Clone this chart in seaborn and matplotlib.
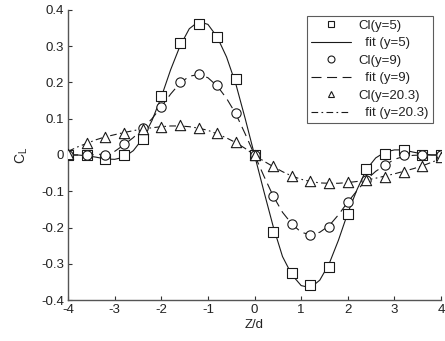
import numpy as np
import pandas as pd
import matplotlib
matplotlib.use("Agg")
import matplotlib.pyplot as plt
import seaborn as sns
from matplotlib.lines import Line2D

# ---- data ----
z_pts = [-4.0, -3.6, -3.2, -2.8, -2.4, -2.0, -1.6, -1.2, -0.8, -0.4, 0.0,
         0.4, 0.8, 1.2, 1.6, 2.0, 2.4, 2.8, 3.2, 3.6, 4.0]
cl_y5 = [0.0, 0.0, -0.011, 0.0, 0.044, 0.163, 0.31, 0.36, 0.325, 0.21, 0.0,
         -0.212, -0.325, -0.359, -0.309, -0.163, -0.04, 0.003, 0.014, 0.0, 0.0]
cl_y9 = [0.0, 0.0, 0.0, 0.03, 0.074, 0.133, 0.2, 0.222, 0.193, 0.115, 0.0,
         -0.113, -0.19, -0.22, -0.198, -0.13, -0.07, -0.028, 0.0, 0.0, 0.0]
cl_y20 = [0.004, 0.032, 0.05, 0.06, 0.072, 0.077, 0.083, 0.074, 0.06, 0.036, 0.0,
          -0.03, -0.058, -0.072, -0.078, -0.075, -0.069, -0.06, -0.047, -0.03, -0.006]

z_fit = [-4.0, -3.8, -3.6, -3.4, -3.2, -3.0, -2.8, -2.6, -2.4, -2.2, -2.0,
         -1.8, -1.6, -1.4, -1.2, -1.0, -0.8, -0.6, -0.4, -0.2, 0.0,
         0.2, 0.4, 0.6, 0.8, 1.0, 1.2, 1.4, 1.6, 1.8, 2.0,
         2.2, 2.4, 2.6, 2.8, 3.0, 3.2, 3.4, 3.6, 3.8, 4.0]
fit_y5 = [0.0, 0.0, -0.002, -0.006, -0.011, -0.012, -0.006, 0.012, 0.045, 0.095, 0.16,
          0.235, 0.30, 0.348, 0.368, 0.36, 0.325, 0.27, 0.195, 0.10, 0.0,
          -0.10, -0.197, -0.28, -0.33, -0.36, -0.366, -0.345, -0.30, -0.235, -0.16,
          -0.095, -0.04, -0.008, 0.008, 0.014, 0.014, 0.008, 0.003, 0.0, 0.0]
fit_y9 = [0.0, 0.0, 0.0, 0.001, 0.003, 0.01, 0.028, 0.048, 0.073, 0.10, 0.133,
          0.168, 0.198, 0.217, 0.222, 0.213, 0.19, 0.156, 0.113, 0.058, 0.0,
          -0.058, -0.113, -0.158, -0.19, -0.213, -0.22, -0.213, -0.195, -0.165, -0.13,
          -0.098, -0.068, -0.045, -0.028, -0.012, -0.004, -0.001, 0.0, 0.0, 0.0]
fit_y20 = [0.01, 0.022, 0.032, 0.042, 0.05, 0.056, 0.062, 0.067, 0.072, 0.075, 0.078,
           0.08, 0.08, 0.078, 0.074, 0.068, 0.058, 0.047, 0.034, 0.018, 0.0,
           -0.017, -0.032, -0.046, -0.058, -0.067, -0.073, -0.077, -0.078, -0.078, -0.076,
           -0.073, -0.069, -0.064, -0.058, -0.052, -0.045, -0.038, -0.03, -0.02, -0.01]

x_ticks = [-4, -3, -2, -1, 0, 1, 2, 3, 4]
y_ticks = [-0.4, -0.3, -0.2, -0.1, 0.0, 0.1, 0.2, 0.3, 0.4]
y_ticklabels = ["-0.4", "-0.3", "-0.2", "-0.1", "0", "0.1", "0.2", "0.3", "0.4"]

# ---- plot ----
sns.set_theme(style="white")
plt.rcParams['font.family'] = ['Liberation Sans', 'DejaVu Sans']

fig = plt.figure(figsize=(4.45, 3.41), dpi=100)
ax = fig.add_axes([0.153, 0.12, 0.838, 0.851])

lc = "#1a1a1a"
lw = 0.8
sns.lineplot(x=z_fit, y=fit_y5, ax=ax, color=lc, lw=lw, linestyle="-", legend=False, zorder=2)
sns.lineplot(x=z_fit, y=fit_y9, ax=ax, color=lc, lw=lw, legend=False, zorder=2,
             dashes=False)
ax.lines[-1].set_dashes([9, 5])
sns.lineplot(x=z_fit, y=fit_y20, ax=ax, color=lc, lw=lw, legend=False, zorder=2)
ax.lines[-1].set_dashes([6, 3, 1.5, 3])

mk = dict(facecolor="white", edgecolor=lc, linewidth=0.8, legend=False, zorder=3, ax=ax)
sns.scatterplot(x=z_pts, y=cl_y5, marker="s", s=50, **mk)
sns.scatterplot(x=z_pts, y=cl_y9, marker="o", s=45, **mk)
sns.scatterplot(x=z_pts, y=cl_y20, marker="^", s=55, **mk)

ax.set_xlim(-4, 4)
ax.set_ylim(-0.4, 0.4)
ax.set_xticks(x_ticks)
ax.set_xticklabels([str(t) for t in x_ticks])
ax.set_yticks(y_ticks)
ax.set_yticklabels(y_ticklabels)
ax.tick_params(direction="in", length=3, width=0.8, colors="#333333", labelsize=9.5,
               labelcolor="#222222", bottom=True, left=True, pad=3)
for s in ["top", "right"]:
    ax.spines[s].set_visible(False)
for s in ["left", "bottom"]:
    ax.spines[s].set_color("#555555")
    ax.spines[s].set_linewidth(1.0)

ax.set_xlabel("Z/d", fontsize=9.5, color="#222222", labelpad=2)
ax.set_ylabel("C$_\\mathregular{L}$", fontsize=10, color="#222222", labelpad=8)

handles = [
    Line2D([], [], marker="s", ms=5, mfc="white", mec=lc, mew=0.8, ls="none"),
    Line2D([], [], color=lc, lw=lw, ls="-"),
    Line2D([], [], marker="o", ms=5, mfc="white", mec=lc, mew=0.8, ls="none"),
    Line2D([], [], color=lc, lw=lw, dashes=[9, 5]),
    Line2D([], [], marker="^", ms=5, mfc="white", mec=lc, mew=0.8, ls="none"),
    Line2D([], [], color=lc, lw=lw, dashes=[6, 3, 1.5, 3]),
]
labels = ["Cl(y=5)", "  fit (y=5)", "Cl(y=9)", "  fit (y=9)", "Cl(y=20.3)", "  fit (y=20.3)"]
leg = ax.legend(handles, labels, loc="upper right", bbox_to_anchor=(0.978, 0.98),
                fontsize=9.5, frameon=True, fancybox=False, handlelength=3.0,
                handletextpad=0.6, labelspacing=0.4, borderpad=0.3, borderaxespad=0)
leg.get_frame().set_edgecolor("#333333")
leg.get_frame().set_linewidth(0.8)
for t in leg.get_texts():
    t.set_color("#222222")

fig.savefig("out.png", dpi=100)
